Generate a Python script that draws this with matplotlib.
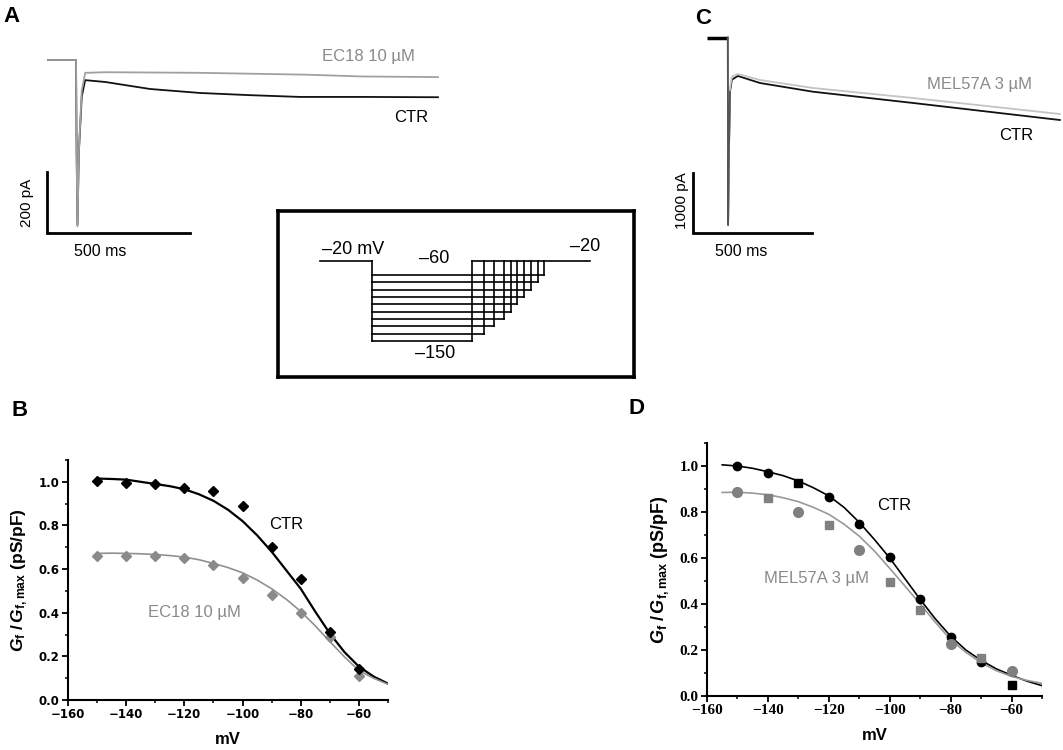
import numpy as np
import matplotlib
matplotlib.use("Agg")
import matplotlib.pyplot as plt
from matplotlib.ticker import MultipleLocator

plt.rcParams["font.family"] = ["Liberation Sans", "DejaVu Sans"]
plt.rcParams["mathtext.fontset"] = "custom"
plt.rcParams["mathtext.rm"] = "Liberation Sans:bold"
plt.rcParams["mathtext.bf"] = "Liberation Sans:bold"
plt.rcParams["mathtext.it"] = "Liberation Sans:italic:bold"
plt.rcParams["mathtext.bfit"] = "Liberation Sans:italic:bold"

W, H = 1063, 750

# ---------------------------------------------------------------------------
# Data
# ---------------------------------------------------------------------------
# A: current traces (ms, pA)
a_ctr_t = [0, 98, 100, 103, 108, 118, 130, 200, 357, 531, 700, 881, 1100, 1364]
a_ctr_i = [0, 0, -300, -540, -300, -120, -66, -72, -95, -108, -115, -121, -121, -122]
a_ec_t = [0, 98, 100, 103, 108, 118, 130, 200, 531, 900, 1100, 1364]
a_ec_i = [0, 0, -300, -545, -300, -100, -42, -40, -42, -48, -54, -56]

# C: current traces (ms, pA)
c_ctr_t = [88, 89, 92, 97, 105, 130, 223, 445, 866, 1483]
c_ctr_i = [0, -3120, -2000, -900, -700, -638, -755, -900, -1088, -1372]
c_mel_t = [88, 89, 92, 97, 105, 130, 223, 445, 866, 1483]
c_mel_i = [0, -3100, -2000, -850, -650, -605, -705, -838, -1005, -1272]
c_hold_t = [0, 88]

# inset: voltage protocol (mV)
hold_mv = -20
step_mv = [-150, -140, -130, -120, -110, -100, -90, -80, -70, -60]
step_on = 520
step_off = [1520, 1640, 1740, 1840, 1910, 1970, 2040, 2110, 2180, 2240]
protocol_end = 2700

# B: activation, EC18
volts = [-150, -140, -130, -120, -110, -100, -90, -80, -70, -60]
b_ctr = [1.005, 0.995, 0.99, 0.97, 0.957, 0.89, 0.70, 0.555, 0.31, 0.14]
b_ec18 = [0.66, 0.66, 0.662, 0.65, 0.62, 0.56, 0.48, 0.40, 0.29, 0.11]
fit_v_b = [-150, -145, -140, -135, -130, -125, -120, -115, -110, -105, -100,
           -95, -90, -85, -80, -75, -70, -65, -60, -55, -50]
fit_b_ctr = [1.015, 1.013, 1.01, 1.0, 0.99, 0.98, 0.966, 0.943, 0.913, 0.872, 0.82,
             0.755, 0.68, 0.595, 0.51, 0.405, 0.305, 0.22, 0.153, 0.108, 0.075]
fit_b_ec18 = [0.672, 0.673, 0.672, 0.670, 0.667, 0.662, 0.655, 0.643, 0.626, 0.607, 0.583,
              0.55, 0.51, 0.462, 0.406, 0.34, 0.268, 0.198, 0.135, 0.10, 0.072]

# D: activation, MEL57A
d_ctr = [1.0, 0.97, 0.925, 0.865, 0.75, 0.605, 0.42, 0.255, 0.15, 0.05]
d_mel = [0.885, 0.86, 0.80, 0.745, 0.635, 0.495, 0.375, 0.225, 0.165, 0.11]
fit_v_d = [-155, -150, -145, -140, -135, -130, -125, -120, -115, -110, -105, -100,
           -95, -90, -85, -80, -75, -70, -65, -60, -55, -50]
fit_d_ctr = [1.005, 1.0, 0.99, 0.975, 0.958, 0.935, 0.905, 0.87, 0.82, 0.755, 0.68, 0.60,
             0.51, 0.42, 0.335, 0.26, 0.20, 0.155, 0.118, 0.09, 0.065, 0.045]
fit_d_mel = [0.885, 0.886, 0.882, 0.875, 0.862, 0.845, 0.82, 0.79, 0.747, 0.695, 0.63, 0.555,
             0.478, 0.40, 0.32, 0.245, 0.19, 0.145, 0.11, 0.085, 0.068, 0.055]

# marker shapes per point in D
d_ctr_mk = ["o", "o", "s", "o", "o", "o", "o", "o", "o", "s"]
d_mel_mk = ["o", "s", "o", "s", "o", "s", "s", "o", "s", "o"]

GRAY_TXT = "#8a8a8a"


def frac(x0, y0, x1, y1):
    """pixel box (top-left origin) -> figure fraction rect"""
    return [x0 / W, 1 - y1 / H, (x1 - x0) / W, (y1 - y0) / H]


def ftxt(x, y, s, **kw):
    fig.text(x / W, 1 - y / H, s, **kw)


fig = plt.figure(figsize=(W / 100, H / 100), dpi=100)

# ---------------------------------------------------------------------------
# A
# ---------------------------------------------------------------------------
axA = fig.add_axes(frac(40, 40, 460, 240))
axA.set_xlim(-28, 1441)
axA.set_ylim(-590, 65.6)
axA.set_axis_off()
axA.plot(a_ctr_t, a_ctr_i, color="#111111", lw=1.3)
axA.plot(a_ec_t, a_ec_i, color="#a0a0a0", lw=1.3)
axA.plot([-3.5, -3.5, 496.5], [-367, -567, -567], color="black", lw=2,
         solid_joinstyle="miter")
ftxt(27, 203, "200 pA", rotation=90, ha="center", va="center", fontsize=11)
ftxt(100, 251, "500 ms", ha="center", va="center", fontsize=11.5)
ftxt(322, 56, "EC18 10 µM", ha="left", va="center", fontsize=12, color=GRAY_TXT)
ftxt(428, 117, "CTR", ha="right", va="center", fontsize=12)

# ---------------------------------------------------------------------------
# C
# ---------------------------------------------------------------------------
axC = fig.add_axes(frac(670, 20, 1063, 240))
axC.set_xlim(-155, 1496)
axC.set_ylim(-3372, 295)
axC.set_axis_off()
axC.plot(c_hold_t, [0, 0], color="black", lw=2.5, solid_capstyle="butt")
axC.plot(c_ctr_t, c_ctr_i, color="#111111", lw=1.3)
axC.plot(c_mel_t, c_mel_i, color="#c4c4c4", lw=1.3)
axC.plot(c_ctr_t[:4], c_ctr_i[:4], color="#555555", lw=1.3)
axC.plot([-59, -59, 441], [-2255, -3255, -3255], color="black", lw=2,
         solid_joinstyle="miter")
ftxt(682, 201, "1000 pA", rotation=90, ha="center", va="center", fontsize=11)
ftxt(741, 251, "500 ms", ha="center", va="center", fontsize=11.5)
ftxt(927, 84, "MEL57A 3 µM", ha="left", va="center", fontsize=12, color=GRAY_TXT)
ftxt(1033, 135, "CTR", ha="right", va="center", fontsize=12)

# ---------------------------------------------------------------------------
# inset: protocol
# ---------------------------------------------------------------------------
axI = fig.add_axes(frac(278, 211, 634, 377))


def _fwd(v):
    v = np.asarray(v, dtype=float)
    return np.where(v <= -60, v, -60 + (v + 60) * 0.48)


def _inv(u):
    u = np.asarray(u, dtype=float)
    return np.where(u <= -60, u, -60 + (u + 60) / 0.48)


axI.set_yscale("function", functions=(_fwd, _inv))
axI.set_xlim(-420, 3140)
axI.set_ylim(-199.2, 121.9)
axI.set_xticks([])
axI.set_yticks([])
axI.minorticks_off()
for sp in axI.spines.values():
    sp.set_linewidth(2.6)
lk = dict(color="black", lw=1.2)
axI.plot([0, step_on], [hold_mv, hold_mv], **lk)
axI.plot([step_on, step_on], [hold_mv, min(step_mv)], **lk)
for v, t_off in zip(step_mv, step_off):
    axI.plot([step_on, t_off], [v, v], **lk)
    axI.plot([t_off, t_off], [v, hold_mv], **lk)
axI.plot([min(step_off), protocol_end], [hold_mv, hold_mv], **lk)
ftxt(322, 249, "–20 mV", ha="left", va="center", fontsize=13)
ftxt(434, 259, "–60", ha="center", va="center", fontsize=13)
ftxt(585, 247, "–20", ha="center", va="center", fontsize=13)
ftxt(435, 354, "–150", ha="center", va="center", fontsize=13)


# ---------------------------------------------------------------------------
# B and D
# ---------------------------------------------------------------------------
def style_gv(ax, tickfont, labsize):
    ax.set_xlim(-160, -50)
    ax.set_ylim(0, 1.1)
    ax.spines[["top", "right"]].set_visible(False)
    for s in ("left", "bottom"):
        ax.spines[s].set_linewidth(1.5)
    ax.xaxis.set_major_locator(MultipleLocator(20))
    ax.xaxis.set_minor_locator(MultipleLocator(10))
    ax.yaxis.set_major_locator(MultipleLocator(0.2))
    ax.yaxis.set_minor_locator(MultipleLocator(0.1))
    ax.set_xticks(np.arange(-160, -59, 20))
    ax.tick_params(which="major", direction="out", length=4, width=1.3, pad=2)
    ax.tick_params(which="minor", direction="out", length=2.5, width=1.1)
    ax.yaxis.set_major_formatter(matplotlib.ticker.FormatStrFormatter("%.1f"))
    for lab in ax.get_xticklabels() + ax.get_yticklabels():
        lab.update(tickfont)
    ax.set_xlabel("mV", fontsize=12, fontweight="bold", labelpad=8)
    ax.set_ylabel(r"$\mathbfit{G}_\mathbf{f}\;/\,\mathbfit{G}_\mathbf{f,max}$ (pS/pF)",
                  fontsize=labsize, fontweight="bold", labelpad=6)


axB = fig.add_axes(frac(68, 460, 388, 700))
axB.plot(fit_v_b, fit_b_ctr, color="black", lw=1.6, zorder=2)
axB.plot(fit_v_b, fit_b_ec18, color="#909090", lw=1.2, zorder=2)
axB.plot(volts, b_ec18, "D", color="#8a8a8a", ms=5, zorder=3)
axB.plot(volts, b_ctr, "D", color="black", ms=5, zorder=3)
style_gv(axB, dict(family="DejaVu Sans", fontweight="bold", fontsize=8.5), 12.5)
axB.text(-85, 0.806, "CTR", ha="center", va="center", fontsize=12)
axB.text(-116.6, 0.40, "EC18 10 µM", ha="center", va="center", fontsize=12,
         color=GRAY_TXT)

axD = fig.add_axes(frac(707, 443, 1042, 696))
axD.plot(fit_v_d, fit_d_ctr, color="black", lw=1.2, zorder=2)
axD.plot(fit_v_d, fit_d_mel, color="#999999", lw=1.2, zorder=2)
for v, g, m in zip(volts, d_ctr, d_ctr_mk):
    axD.plot(v, g, m, color="black", ms=6 if m == "o" else 5.5, zorder=3)
for v, g, m in zip(volts, d_mel, d_mel_mk):
    axD.plot(v, g, m, color="#808080", ms=7 if m == "o" else 6, zorder=4)
style_gv(axD, dict(family="Liberation Serif", fontweight="bold", fontsize=11), 13)
axD.text(-98.6, 0.83, "CTR", ha="center", va="center", fontsize=12)
axD.text(-124, 0.513, "MEL57A 3 µM", ha="center", va="center", fontsize=12,
         color=GRAY_TXT)

# panel letters
for x, y, s in [(12, 16, "A"), (703, 18, "C"), (20, 410, "B"), (636, 409, "D")]:
    ftxt(x, y, s, ha="center", va="center", fontsize=16, fontweight="bold")

fig.savefig("out.png", dpi=100)
